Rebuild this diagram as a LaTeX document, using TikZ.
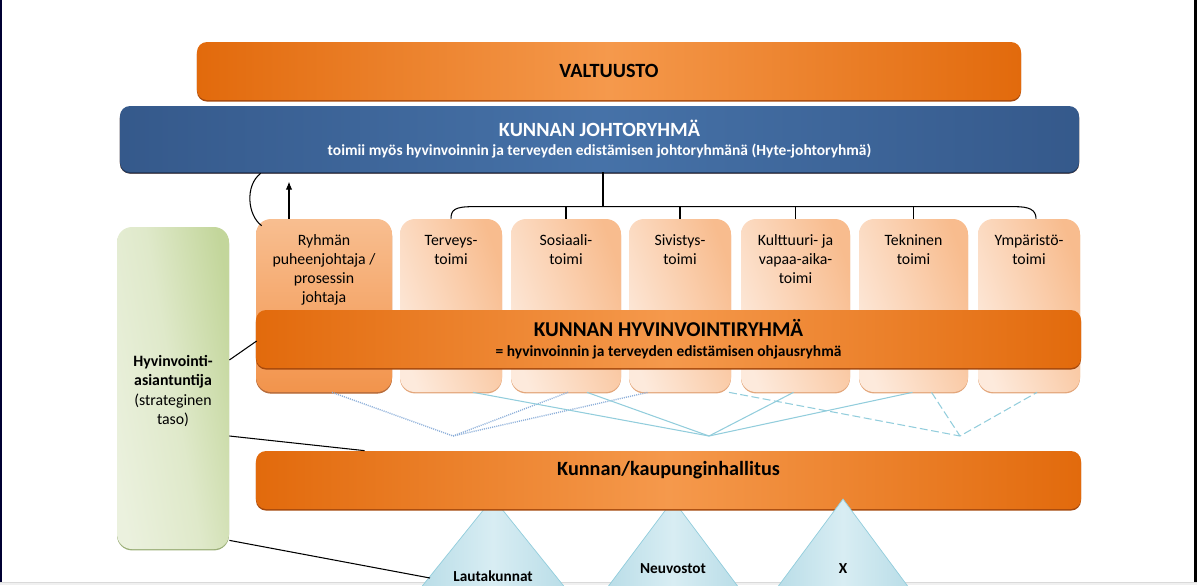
\documentclass[tikz,border=0pt]{standalone}
\usepackage{fontspec}
\setmainfont{Carlito}
\usetikzlibrary{calc,shadows,arrows.meta}

\definecolor{oranssi}{HTML}{E26A0C}
\definecolor{oranssivaalea}{HTML}{F5994C}
\definecolor{oranssivarjo}{HTML}{A5480C}
\definecolor{sininen}{HTML}{35598B}
\definecolor{sininenvaalea}{HTML}{4672A8}
\definecolor{sininenvarjo}{HTML}{22395C}
\definecolor{persikkavaalea}{HTML}{FDEADC}
\definecolor{persikkatumma}{HTML}{F8BC8E}
\definecolor{persikkavarjo}{HTML}{E3A77C}
\definecolor{ryhmaylä}{HTML}{F8BE90}
\definecolor{ryhmäala}{HTML}{F2944C}
\definecolor{vihrea}{HTML}{C3D69B}
\definecolor{vihreavaalea}{HTML}{EBF1DE}
\definecolor{vihreavarjo}{HTML}{9BAF78}
\definecolor{turkoosi}{HTML}{92CDDC}
\definecolor{turkoosivaalea}{HTML}{D8EDF3}
\definecolor{turkoositumma}{HTML}{B5DBE6}
\definecolor{harmaansininen}{HTML}{8EB0DA}

\begin{document}
\begin{tikzpicture}[x=0.2mm, y=-0.2mm,
  palkki/.style={rectangle, rounded corners=2mm, inner sep=0pt, minimum width=165mm, minimum height=11.6mm,
    left color=oranssi, right color=oranssi, middle color=oranssivaalea,
    drop shadow={shadow xshift=0pt, shadow yshift=-0.9pt, fill=oranssivarjo, opacity=1},
    align=center, font=\bfseries\fontsize{11.5}{12.5}\selectfont},
  johtopalkki/.style={palkki, left color=sininen, right color=sininen, middle color=sininenvaalea,
    drop shadow={shadow xshift=0pt, shadow yshift=-0.9pt, fill=sininenvarjo, opacity=1},
    text=white, minimum width=191.8mm, minimum height=13.2mm},
  toimi/.style={rectangle, rounded corners=3mm, inner sep=0pt, minimum height=34.6mm,
    left color=persikkavaalea, right color=persikkatumma, shading angle=110,
    drop shadow={shadow xshift=0pt, shadow yshift=-0.8pt, fill=persikkavarjo, opacity=1}},
  toimiteksti/.style={inner sep=0pt, align=center, font=\fontsize{9}{10.8}\selectfont},
  kolmio/.style={draw=turkoosi, line width=0.4pt, left color=turkoositumma, right color=turkoositumma, middle color=turkoosivaalea},
  kolmioteksti/.style={inner sep=0pt, font=\bfseries\fontsize{8.7}{10}\selectfont},
  viiva/.style={line width=0.6pt, black},
  sinviiva/.style={line width=0.6pt, turkoosi},
  katkoviiva/.style={sinviiva, dash pattern=on 4.5pt off 2pt},
  pisteviiva/.style={line width=0.8pt, harmaansininen, dash pattern=on 0.6pt off 0.6pt}]

\useasboundingbox (0,0) rectangle (1197,585);
\clip (0,0) rectangle (1197,585);

% Reunat
\draw[line width=0.4mm, black!80!blue] (1,0) -- (1,583);
\draw[line width=0.6mm] (1195,0) -- (1195,583);
\fill[black!6] (0,582) rectangle (1197,585);
\draw[black!15, line width=0.2mm] (0,582) -- (1197,582);

% Ylimmät palkit
\node[palkki, minimum width=164.8mm] (valtuusto) at (609,71) {VALTUUSTO};
\node[johtopalkki] (johto) at (599.5,139) {KUNNAN JOHTORYHMÄ\\[-1.8pt]
  {\fontsize{8.8}{10}\selectfont toimii myös hyvinvoinnin ja terveyden edistämisen johtoryhmänä (Hyte-johtoryhmä)}};

% Toimialat
\node[toimi, minimum width=27.2mm, top color=ryhmaylä, bottom color=ryhmäala,
  drop shadow={shadow xshift=0pt, shadow yshift=-0.9pt, fill=oranssivarjo!80, opacity=1}] (ryhma) at (324,305.5) {};
\node[toimiteksti, anchor=north] (ryhma-t) at ($(ryhma.north)+(0,16)$) {Ryhmän\\puheenjohtaja /\\prosessin\\johtaja};

\foreach \n/\x/\w/\t in {terveys/451/20.4mm/{Terveys-\\toimi},
    sosiaali/566/22mm/{Sosiaali-\\toimi},
    sivistys/680/20.4mm/{Sivistys-\\toimi},
    kulttuuri/795.5/21.8mm/{Kulttuuri- ja\\vapaa-aika-\\toimi},
    tekninen/913.5/21.8mm/{Tekninen\\toimi},
    ymparisto/1029/20.4mm/{Ympäristö-\\toimi}}{
  \node[toimi, minimum width=\w] (\n) at (\x,305.5) {};
  \node[toimiteksti, anchor=north] (\n-t) at ($(\n.north)+(0,16)$) {\t};
}

% Johtoryhmästä toimialoille
\coordinate (haara) at (603,207);
\draw[viiva] (johto.south -| haara) -- (haara);
\draw[viiva] (terveys.north) .. controls ($(terveys.north)+(0,-9)$) and ($(terveys.north)+(4,-12)$) .. ($(terveys.north)+(22,-12)$)
  -- ($(ymparisto.north)+(-14,-12)$) .. controls ($(ymparisto.north)+(0,-12)$) and ($(ymparisto.north)+(7,-9)$) .. ($(ymparisto.north)+(7,0)$);
\foreach \n in {sosiaali, sivistys, kulttuuri, tekninen}
  \draw[viiva] (\n.north) -- (\n.north |- haara);

\draw[viiva] ($(ryhma.north west)+(6,7)$) .. controls ($(ryhma.north west)+(-8,-3)$) and ($(ryhma.north west)+(-11,-33)$) .. ($(johto.south west)+(141,1)$);
\draw[viiva, -{Latex[length=1.6mm, width=1.3mm]}] ($(ryhma.north)+(-35,0)$) -- ($(ryhma.north)+(-35,-37)$);

% Hyvinvointiryhmä
\node[palkki] (hyv) at (668.5,339) {{\fontsize{12}{12}\selectfont KUNNAN HYVINVOINTIRYHMÄ}\\[-1.4pt]
  {\fontsize{8.8}{10}\selectfont = hyvinvoinnin ja terveyden edistämisen ohjausryhmä}};

% Asiantuntija
\node[rectangle, rounded corners=3mm, minimum width=22.4mm, minimum height=64.4mm, inner sep=0pt,
  left color=vihreavaalea, right color=vihrea, middle color=vihreavaalea!70!vihrea, shading angle=100,
  drop shadow={shadow xshift=0pt, shadow yshift=-0.8pt, fill=vihreavarjo, opacity=1},
  align=center, font=\fontsize{9}{11}\selectfont] (asiantuntija) at (173,388)
  {\rule{0pt}{9.7pt}\textbf{Hyvinvointi-}\\\textbf{asiantuntija}\\(strateginen\\taso)};

% Lautakunnat ja neuvostot
\path[kolmio] (493,498) -- (411,600) -- (575,600) -- cycle;
\path[kolmio] (673,500) -- (598,600) -- (748,600) -- cycle;
\node[kolmioteksti] (lauta) at (493,576) {Lautakunnat};
\node[kolmioteksti] (neuvosto) at (673,569) {Neuvostot};

% Hallitus
\node[palkki, text height=8.3pt, text depth=14pt] (hallitus) at (668.5,480) {Kunnan/kaupunginhallitus};

\path[kolmio] (843,499) -- (768,600) -- (918,600) -- cycle;
\node[kolmioteksti] (muut) at (843,569) {X};

% Yhteydet hallitukseen
\coordinate (p1) at (453,436);
\coordinate (p2) at (709,436);
\coordinate (p3) at (960,436);
\draw[pisteviiva] ($(ryhma.south)+(8,0)$) -- (p1) -- ($(sosiaali.south)+(2,0)$);
\draw[pisteviiva] (p1) -- ($(sivistys.south)+(-32,0)$);
\draw[sinviiva] ($(terveys.south)+(22,0)$) -- (p2) -- ($(kulttuuri.south)+(-2,0)$);
\draw[sinviiva] ($(sosiaali.south)+(21,0)$) -- (p2) -- ($(tekninen.south)+(-1,0)$);
\draw[katkoviiva] ($(sivistys.south)+(49,0)$) -- (p3) -- ($(ymparisto.south)+(8,0)$);
\draw[katkoviiva] ($(tekninen.south)+(18,0)$) -- (p3);

% Asiantuntijan yhteydet
\draw[viiva] ($(asiantuntija.east)+(0,-28)$) -- ($(hyv.west)+(1,2)$);
\draw[viiva] ($(asiantuntija.east)+(0,48)$) -- ($(hallitus.north west)+(109,0)$);
\draw[viiva] ($(asiantuntija.south east)+(0,-9)$) -- ($(lauta.west)+(-23,2)$);
\end{tikzpicture}
\end{document}
